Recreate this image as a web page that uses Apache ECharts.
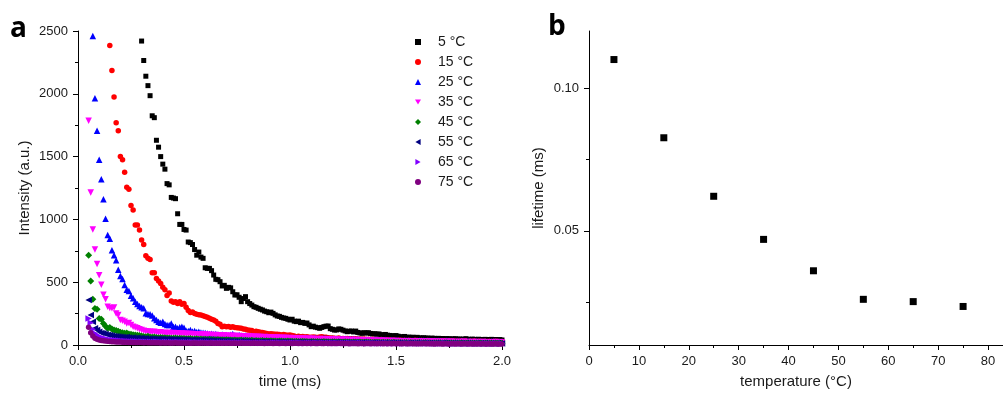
<!DOCTYPE html>
<html>
<head>
<meta charset="utf-8">
<script src="https://cdn.jsdelivr.net/npm/echarts@6/dist/echarts.min.js"></script>
<style>
  html, body { margin: 0; padding: 0; background: #fff; }
  #chart { width: 1003px; height: 397px; }
</style>
</head>
<body>
<div id="chart"></div>
<script>
// panel a: decay curves, sampled every 0.01 ms from each curve's first point
const TIME_STEP = 0.01;
const decayLabels = ["5 °C", "15 °C", "25 °C", "35 °C", "45 °C", "55 °C", "65 °C", "75 °C"];
const decayStart = [0.30, 0.15, 0.07, 0.05, 0.05, 0.05, 0.05, 0.05];

const decay5 = [
  2420, 2265, 2140, 2065, 1985, 1825, 1810, 1630, 1575, 1500,
  1440, 1400, 1285, 1275, 1175, 1170, 1165, 1045, 960, 960,
  920, 915, 820, 815, 800, 760, 715, 740, 700, 690,
  615, 610, 610, 592, 557, 523, 520, 504, 470, 475,
  451, 459, 455, 424, 398, 400, 380, 345, 370, 385,
  345, 330, 318, 305, 300, 292, 285, 279, 270, 265,
  257, 262, 252, 240, 231, 228, 220, 215, 212, 205,
  199, 205, 190, 186, 190, 178, 180, 172, 175, 160,
  146, 150, 142, 138, 133, 140, 146, 150, 151, 130,
  125, 119, 120, 128, 125, 118, 112, 106, 110, 111,
  104, 111, 100, 96, 93, 98, 95, 98, 92, 88,
  90, 86, 88, 82, 80, 84, 78, 76, 74, 72,
  75, 70, 66, 64, 68, 61, 63, 60, 62, 58,
  61, 57, 55, 58, 54, 56, 52, 55, 53, 51,
  53, 50, 52, 48, 51, 50, 47, 49, 50, 46,
  48, 45, 47, 50, 46, 44, 47, 45, 43, 46,
  44, 42, 45, 43, 44, 45, 42, 44, 41, 43,
  40
];
const decay15 = [
  2385, 2185, 1975, 1770, 1705,
  1500, 1475, 1375, 1255, 1240, 1110, 1075, 955, 955, 915,
  835, 800, 710, 690, 680, 575, 575, 530, 510, 490,
  460, 440, 395, 415, 350, 340, 345, 330, 345, 325,
  330, 300, 275, 258, 262, 250, 245, 240, 238, 232,
  226, 220, 212, 205, 199, 190, 172, 165, 146, 150,
  146, 148, 142, 145, 140, 138, 135, 133, 128, 125,
  120, 118, 115, 106, 110, 106, 102, 99, 96, 92,
  88, 90, 88, 85, 86, 84, 80, 83, 80, 78,
  80, 75, 72, 66, 70, 66, 68, 64, 66, 62,
  61, 64, 62, 60, 63, 66, 62, 61, 58, 56,
  55, 54, 52, 55, 50, 52, 49, 51, 48, 50,
  47, 49, 46, 48, 45, 47, 44, 46, 43, 45,
  42, 44, 41, 43, 40, 42, 39, 41, 38, 40,
  38, 37, 39, 36, 38, 35, 37, 36, 34, 37,
  35, 33, 36, 34, 32, 35, 33, 34, 31, 33,
  32, 34, 31, 33, 30, 32, 31, 33, 30, 31,
  29, 31, 30, 32, 28, 30, 29, 31, 28, 30,
  29, 27, 30, 28, 29, 27, 28, 30, 27, 28,
  27
];
const decay25 = [
  2460, 1965, 1705,
  1475, 1320, 1160, 1005, 875, 845, 755, 715, 675, 600,
  550, 525, 478, 440, 430, 392, 372, 345, 326, 310,
  300, 292, 252, 247, 244, 234, 212, 200, 186, 178,
  186, 167, 160, 159, 172, 146, 146, 133, 141, 146,
  138, 114, 111, 120, 108, 112, 104, 106, 100, 98,
  95, 92, 88, 90, 85, 88, 82, 80, 84, 78,
  80, 76, 82, 88, 78, 75, 80, 74, 72, 75,
  72, 70, 73, 68, 70, 66, 69, 67, 65, 68,
  66, 64, 62, 65, 61, 63, 60, 62, 61, 59,
  61, 58, 60, 57, 59, 56, 58, 55, 57, 54,
  56, 53, 55, 52, 54, 51, 56, 53, 52, 50,
  51, 49, 50, 48, 50, 47, 49, 46, 48, 45,
  47, 44, 46, 43, 45, 42, 44, 41, 43, 42,
  41, 43, 40, 42, 39, 41, 38, 40, 39, 37,
  39, 37, 38, 36, 38, 35, 37, 34, 36, 35,
  34, 36, 33, 35, 32, 34, 33, 31, 34, 32,
  33, 31, 32, 30, 33, 31, 29, 32, 30, 31,
  29, 31, 30, 28, 31, 29, 30, 28, 29, 27,
  30, 28, 29, 27, 28, 30, 27, 28, 26, 28,
  27
];
const decay35 = [
  1785, 1215, 920, 760, 645,
  555, 480, 400, 365, 305, 295, 292, 298, 250, 239,
  199, 194, 186, 172, 175, 160, 146, 140, 133, 125,
  120, 114, 110, 108, 106, 104, 106, 100, 98, 102,
  98, 96, 94, 97, 93, 95, 92, 93, 90, 91,
  89, 90, 88, 87, 88, 85, 86, 84, 85, 83,
  82, 80, 81, 79, 78, 80, 77, 76, 75, 77,
  74, 73, 72, 74, 71, 70, 72, 69, 68, 70,
  67, 66, 68, 65, 64, 66, 63, 62, 64, 61,
  60, 62, 59, 58, 60, 57, 56, 58, 55, 54,
  56, 53, 52, 54, 51, 50, 52, 49, 48, 50,
  47, 49, 46, 45, 47, 44, 46, 43, 45, 42,
  44, 41, 43, 40, 42, 39, 41, 40, 38, 40,
  37, 39, 36, 38, 35, 37, 36, 34, 36, 33,
  35, 32, 34, 33, 31, 33, 30, 32, 31, 29,
  31, 30, 28, 30, 29, 27, 29, 28, 26, 28,
  27, 29, 26, 28, 25, 27, 26, 28, 25, 26,
  24, 26, 25, 23, 25, 24, 26, 23, 24, 22,
  24, 23, 25, 22, 24, 21, 23, 22, 24, 21,
  22, 23, 21, 22, 20, 22, 21, 23, 20, 21,
  20
];
const decay45 = [
  715, 510, 365, 290, 285,
  210, 205, 172, 150, 133, 140, 128, 119, 115, 110,
  101, 98, 93, 95, 88, 85, 82, 80, 78, 76,
  72, 68, 66, 70, 64, 62, 63, 60, 58, 60,
  57, 58, 55, 56, 54, 53, 55, 52, 53, 51,
  52, 50, 49, 51, 48, 47, 49, 46, 47, 45,
  46, 44, 45, 43, 44, 42, 43, 41, 42, 40,
  41, 39, 40, 38, 39, 37, 38, 39, 36, 37,
  36, 35, 37, 34, 35, 33, 34, 35, 32, 33,
  32, 33, 31, 32, 30, 31, 32, 29, 30, 31,
  29, 30, 28, 29, 27, 28, 29, 27, 28, 26,
  27, 28, 26, 27, 25, 26, 27, 25, 26, 24,
  25, 26, 24, 25, 23, 24, 25, 23, 24, 22,
  23, 24, 22, 23, 21, 22, 23, 21, 22, 20,
  22, 21, 22, 20, 21, 19, 21, 20, 19, 21,
  20, 19, 20, 18, 19, 20, 18, 19, 17, 19,
  18, 19, 17, 18, 19, 17, 18, 16, 18, 17,
  17, 18, 16, 17, 18, 16, 17, 15, 17, 16,
  16, 17, 15, 16, 17, 15, 16, 14, 16, 15,
  16, 14, 15, 16, 14, 15, 13, 15, 14, 15,
  14
];
const decay55 = [
  358, 239, 186, 133, 119,
  106, 96, 93, 88, 82, 80, 76, 72, 70, 68,
  66, 64, 62, 63, 60, 58, 59, 56, 57, 54,
  55, 52, 53, 50, 51, 49, 50, 48, 49, 47,
  48, 46, 47, 45, 46, 44, 45, 43, 44, 42,
  43, 41, 42, 40, 41, 39, 40, 38, 39, 37,
  38, 36, 37, 35, 36, 34, 35, 33, 34, 32,
  33, 31, 32, 30, 31, 29, 30, 31, 28, 29,
  30, 28, 29, 27, 28, 26, 27, 28, 26, 27,
  25, 26, 24, 25, 26, 24, 25, 23, 24, 25,
  23, 24, 22, 23, 24, 22, 23, 21, 22, 23,
  21, 22, 20, 21, 22, 20, 21, 19, 20, 21,
  19, 20, 21, 19, 20, 18, 19, 20, 18, 19,
  18, 19, 17, 18, 19, 17, 18, 16, 18, 17,
  18, 16, 17, 18, 16, 17, 15, 16, 17, 15,
  16, 17, 15, 16, 14, 16, 15, 16, 14, 15,
  16, 14, 15, 13, 15, 14, 15, 13, 14, 15,
  13, 14, 15, 13, 14, 12, 14, 13, 14, 12,
  13, 14, 12, 13, 14, 12, 13, 11, 13, 12,
  13, 12, 13, 11, 12, 13, 11, 12, 13, 11,
  12
];
const decay65 = [
  210, 178, 125, 93, 80,
  68, 60, 55, 50, 46, 42, 40, 38, 36, 35,
  33, 32, 31, 30, 29, 28, 29, 27, 28, 26,
  27, 25, 26, 24, 25, 23, 24, 25, 23, 24,
  22, 23, 24, 22, 23, 21, 22, 23, 21, 22,
  21, 22, 20, 21, 22, 20, 21, 19, 20, 21,
  20, 19, 20, 18, 19, 20, 18, 19, 20, 18,
  19, 18, 19, 17, 18, 19, 17, 18, 19, 17,
  18, 17, 18, 16, 17, 18, 16, 17, 18, 16,
  17, 16, 17, 18, 16, 17, 15, 16, 17, 16,
  16, 17, 15, 16, 17, 15, 16, 14, 16, 15,
  16, 14, 15, 16, 14, 15, 16, 14, 15, 13,
  15, 14, 15, 13, 14, 15, 13, 14, 15, 13,
  14, 13, 14, 15, 13, 14, 12, 13, 14, 13,
  14, 12, 13, 14, 12, 13, 14, 12, 13, 12,
  13, 12, 13, 11, 12, 13, 12, 13, 11, 12,
  13, 11, 12, 13, 11, 12, 13, 11, 12, 11,
  12, 11, 12, 13, 11, 12, 10, 12, 11, 12,
  11, 12, 10, 11, 12, 10, 11, 12, 10, 11,
  12, 10, 11, 12, 10, 11, 10, 11, 12, 10,
  11
];
const decay75 = [
  141, 98, 72, 53, 45,
  40, 36, 33, 31, 29, 28, 26, 25, 24, 23,
  23, 22, 21, 22, 20, 21, 20, 19, 20, 19,
  19, 18, 19, 18, 17, 18, 17, 18, 17, 16,
  17, 16, 17, 16, 15, 16, 17, 15, 16, 15,
  16, 15, 16, 14, 15, 16, 15, 14, 15, 16,
  15, 14, 15, 16, 14, 15, 14, 15, 13, 15,
  14, 15, 13, 14, 15, 13, 14, 15, 13, 14,
  14, 13, 14, 15, 13, 14, 13, 14, 12, 14,
  13, 14, 12, 13, 14, 12, 13, 14, 12, 13,
  13, 12, 13, 14, 12, 13, 12, 13, 11, 13,
  12, 13, 11, 12, 13, 11, 12, 13, 11, 12,
  12, 11, 12, 13, 11, 12, 11, 12, 10, 12,
  11, 12, 10, 11, 12, 10, 11, 12, 10, 11,
  11, 10, 11, 12, 10, 11, 10, 11, 9, 11,
  10, 11, 9, 10, 11, 9, 10, 11, 9, 10,
  10, 9, 10, 11, 9, 10, 9, 10, 8, 10,
  9, 10, 8, 9, 10, 8, 9, 10, 8, 9,
  9, 8, 9, 10, 8, 9, 8, 9, 7, 9,
  8, 9, 7, 8, 9, 7, 8, 9, 7, 8,
  8
];
const decayValues = [decay5, decay15, decay25, decay35, decay45, decay55, decay65, decay75];

// panel b: lifetime vs temperature
const temperatures = [5, 15, 25, 35, 45, 55, 65, 75];
const lifetimes = [0.110, 0.0826, 0.0621, 0.047, 0.036, 0.026, 0.0252, 0.0235];

const tempTicks = [0, 10, 20, 30, 40, 50, 60, 70, 80];
const tempMinorTicks = [5, 15, 25, 35, 45, 55, 65, 75];
const lifeTicks = [0.05, 0.10];
const lifeMinorTicks = [0.025, 0.075];

const COLORS = ["#000000", "#ff0000", "#0000ff", "#ff00ff", "#008000", "#000080", "#8000ff", "#800080"];
// origin-style markers; the rotated triangles are drawn as paths so the legend shows them too
const TRI_DOWN = "path://M0,0L2,0L1,1.732Z";
const TRI_LEFT = "path://M1.732,0L1.732,2L0,1Z";
const TRI_RIGHT = "path://M0,0L0,2L1.732,1Z";
const SYMBOLS = [
  { symbol: "rect", size: 5 },
  { symbol: "circle", size: 5.5 },
  { symbol: "triangle", size: 6.5 },
  { symbol: TRI_DOWN, size: 6.5 },
  { symbol: "diamond", size: 7 },
  { symbol: TRI_LEFT, size: 6.5 },
  { symbol: TRI_RIGHT, size: 6.5 },
  { symbol: "circle", size: 5.5 },
];

const FONT = "Arial, 'Liberation Sans', sans-serif";
const INK = "#1a1a1a";

const chart = echarts.init(document.getElementById("chart"), null, { renderer: "canvas" });

const decaySeries = decayValues.map((vals, k) => ({
  name: decayLabels[k],
  type: "scatter",
  xAxisIndex: 0,
  yAxisIndex: 0,
  symbol: SYMBOLS[k].symbol,
  symbolSize: SYMBOLS[k].size,
  itemStyle: { color: COLORS[k], opacity: 1 },
  data: vals.map((v, i) => [+(decayStart[k] + i * TIME_STEP).toFixed(2), v]),
}));

const axisLine = { show: true, lineStyle: { color: "#000", width: 1 } };
const tickLabel = { color: INK, fontSize: 13, fontFamily: FONT };
const nameStyle = { color: INK, fontSize: 15, fontFamily: FONT };

const option = {
  backgroundColor: "#fff",
  animation: false,
  graphic: [
    { type: "text", left: 10, top: 15, style: { text: "a", font: "bold 28px 'Open Sans', sans-serif", fill: "#000" } },
    { type: "text", left: 548, top: 13, style: { text: "b", font: "bold 28px 'Open Sans', sans-serif", fill: "#000" } },
  ],
  legend: {
    data: decayLabels,
    orient: "vertical",
    left: 410,
    top: 30,
    itemWidth: 6,
    itemHeight: 6,
    itemGap: 6,
    textStyle: { color: INK, fontSize: 14, lineHeight: 14, fontFamily: FONT, padding: [0, 0, 0, 12] },
    selectedMode: false,
  },
  grid: [
    { left: 78, top: 31, right: 501, bottom: 52 },
    { left: 589, top: 31, right: 0, bottom: 52 },
  ],
  xAxis: [
    {
      gridIndex: 0, type: "value", min: 0, max: 2, interval: 0.5,
      name: "time (ms)", nameLocation: "middle", nameGap: 29, nameTextStyle: nameStyle,
      axisLine, splitLine: { show: false },
      axisTick: { show: true, length: 5, lineStyle: { color: "#000" } },
      minorTick: { show: true, splitNumber: 2, length: 3, lineStyle: { color: "#000" } },
      axisLabel: { ...tickLabel, margin: 10, formatter: (v) => v.toFixed(1) },
    },
    {
      gridIndex: 1, type: "value", position: "bottom", min: 0, max: 83,
      name: "temperature (°C)", nameLocation: "middle", nameGap: 29, nameTextStyle: nameStyle,
      axisLine, splitLine: { show: false },
      axisTick: { show: true, length: 5, customValues: tempTicks, lineStyle: { color: "#000" } },
      axisLabel: { ...tickLabel, margin: 10, customValues: tempTicks, formatter: (v) => String(v) },
    },
    {
      gridIndex: 1, type: "value", position: "bottom", min: 0, max: 83,
      axisLine: { show: false }, splitLine: { show: false },
      axisTick: { show: true, length: 3, customValues: tempMinorTicks, lineStyle: { color: "#000" } },
      axisLabel: { show: false },
    },
  ],
  yAxis: [
    {
      gridIndex: 0, type: "value", min: 0, max: 2500, interval: 500,
      name: "Intensity (a.u.)", nameLocation: "middle", nameGap: 46, nameTextStyle: nameStyle,
      axisLine, splitLine: { show: false },
      axisTick: { show: true, length: 5, lineStyle: { color: "#000" } },
      minorTick: { show: true, splitNumber: 2, length: 3, lineStyle: { color: "#000" } },
      axisLabel: { ...tickLabel, margin: 10, formatter: (v) => String(v) },
    },
    {
      gridIndex: 1, type: "value", position: "left", min: 0.01, max: 0.12,
      name: "lifetime (ms)", nameLocation: "middle", nameGap: 43, nameTextStyle: nameStyle,
      axisLine, splitLine: { show: false },
      axisTick: { show: true, length: 5, customValues: lifeTicks, lineStyle: { color: "#000" } },
      axisLabel: { ...tickLabel, margin: 10, customValues: lifeTicks, formatter: (v) => v.toFixed(2) },
    },
    {
      gridIndex: 1, type: "value", position: "left", min: 0.01, max: 0.12,
      axisLine: { show: false }, splitLine: { show: false },
      axisTick: { show: true, length: 3, customValues: lifeMinorTicks, lineStyle: { color: "#000" } },
      axisLabel: { show: false },
    },
  ],
  series: [
    ...decaySeries,
    {
      name: "lifetime",
      type: "scatter",
      xAxisIndex: 1,
      yAxisIndex: 1,
      symbol: "rect",
      symbolSize: 7,
      itemStyle: { color: "#000", opacity: 1 },
      data: temperatures.map((t, i) => [t, lifetimes[i]]),
    },
  ],
};

chart.setOption(option);
</script>
</body>
</html>
